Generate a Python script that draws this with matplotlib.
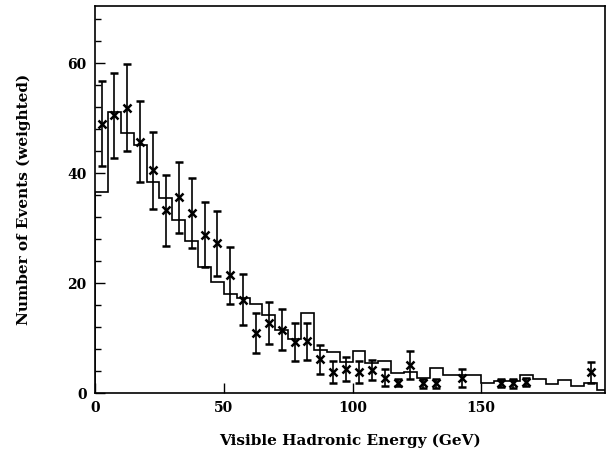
import numpy as np
import matplotlib
matplotlib.use("Agg")
from matplotlib import pyplot as plt
from matplotlib.ticker import MultipleLocator

# Monte Carlo prediction, 5 GeV bins from 0 to 200 GeV
bin_edges = np.arange(0, 205, 5)
mc_counts = [36.5, 51.1, 47.3, 45.1, 38.4, 35.5, 31.5, 27.7, 23.0, 20.2,
             18.1, 17.2, 16.2, 14.2, 11.5, 9.8, 14.5, 7.9, 7.5, 5.6,
             7.7, 5.4, 5.9, 3.6, 3.9, 2.7, 4.5, 3.3, 3.3, 3.3,
             1.9, 2.2, 2.2, 3.3, 2.6, 1.6, 2.3, 1.2, 1.9, 0.5]

# Measured (weighted) events at bin centres
data_e = [2.5, 7.5, 12.5, 17.5, 22.5, 27.5, 32.5, 37.5, 42.5, 47.5,
          52.5, 57.5, 62.5, 67.5, 72.5, 77.5, 82.5, 87.5, 92.5, 97.5,
          102.5, 107.5, 112.5, 117.5, 122.5, 127.5, 132.5, 142.5,
          157.5, 162.5, 167.5, 192.5]
data_n = [49.0, 50.5, 51.9, 45.7, 40.5, 33.2, 35.6, 32.7, 28.8, 27.2,
          21.4, 17.0, 10.9, 12.7, 11.5, 9.3, 9.4, 6.1, 3.8, 4.3,
          3.8, 4.2, 2.8, 1.9, 5.1, 1.8, 1.8, 2.7,
          1.8, 1.8, 2.0, 3.8]
data_err = [7.7, 7.8, 7.9, 7.4, 7.0, 6.5, 6.5, 6.4, 5.9, 5.9,
            5.2, 4.6, 3.6, 3.8, 3.7, 3.4, 3.4, 2.7, 2.0, 2.2,
            2.0, 1.8, 1.6, 0.7, 2.5, 0.8, 0.8, 1.6,
            0.7, 0.8, 0.8, 1.9]

plt.rcParams['font.family'] = ['DejaVu Serif']
plt.rcParams['font.weight'] = 'bold'

fig = plt.figure(figsize=(6.06, 4.61), dpi=100)
ax = fig.add_axes([0.157, 0.1475, 0.841, 0.8395])

ax.stairs(mc_counts, bin_edges, color='black', linewidth=1.2)
ax.errorbar(data_e, data_n, yerr=data_err, fmt='x', color='black',
            markersize=6, markeredgewidth=1.8, elinewidth=1.2,
            capsize=3, capthick=1.2)

ax.set_xlim(0, 198)
ax.set_ylim(0, 70.4)
ax.xaxis.set_major_locator(MultipleLocator(50))
ax.yaxis.set_major_locator(MultipleLocator(20))
ax.yaxis.set_minor_locator(MultipleLocator(4))
ax.tick_params(which='both', direction='in', top=False, right=False,
               labelsize=10, width=1.0)
ax.tick_params(which='major', length=7, pad=6)
ax.tick_params(which='minor', length=4)
for lab in ax.get_xticklabels() + ax.get_yticklabels():
    lab.set_fontweight('bold')
for sp in ax.spines.values():
    sp.set_linewidth(1.2)

ax.set_xlabel('Visible Hadronic Energy (GeV)', fontsize=11,
              fontweight='bold', labelpad=13)
ax.set_ylabel('Number of Events (weighted)', fontsize=11,
              fontweight='bold', labelpad=26)

fig.savefig('out.png', dpi=100)
